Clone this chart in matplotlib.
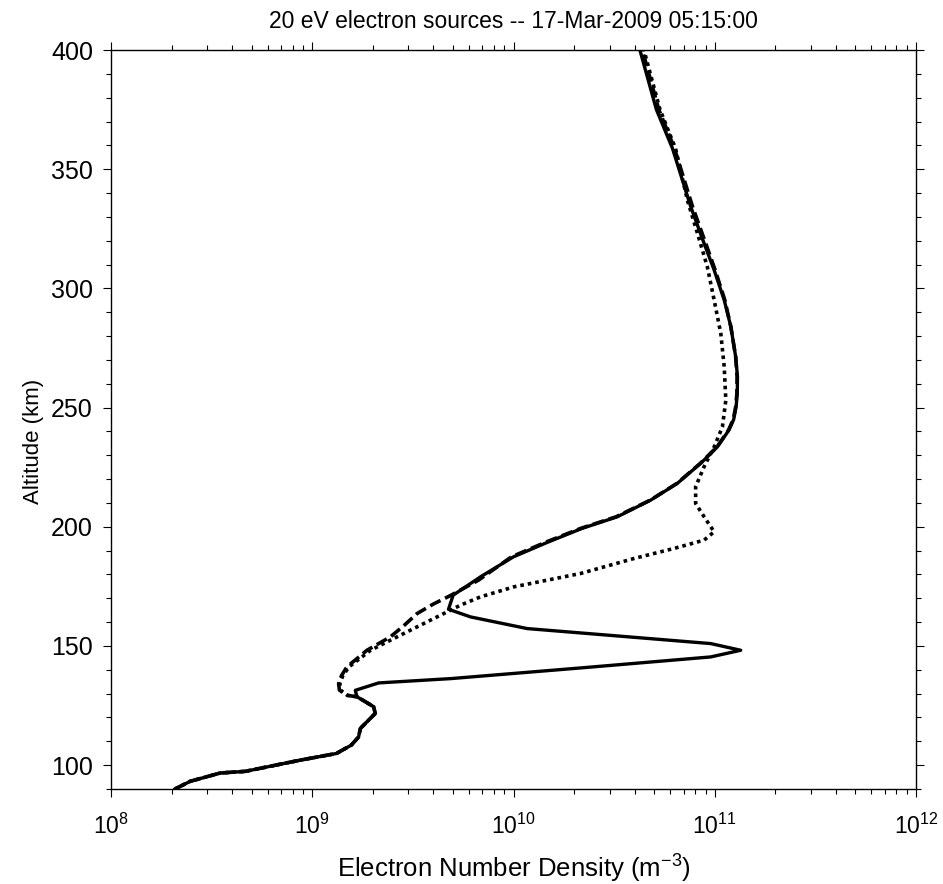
import matplotlib
matplotlib.use("Agg")
import matplotlib.pyplot as plt
import matplotlib.ticker as mticker
import numpy as np

plt.rcParams["font.family"] = ["Liberation Sans", "DejaVu Sans"]
plt.rcParams["mathtext.fontset"] = "custom"
plt.rcParams["mathtext.rm"] = "Liberation Sans"
plt.rcParams["mathtext.it"] = "Liberation Sans:italic"

# Solid profile (km, log10 m^-3)
solid_alt = [90.0, 93.2, 96.7, 97.4, 102.1, 104.9, 108.4, 111.8, 115.4, 118.2,
             121.7, 124.5, 126.6, 128.7, 131.4, 134.5, 136.3, 140.9, 145.4, 148.2,
             151.0, 157.3, 162.2, 165.4, 171.3, 179.0, 187.4, 193.7, 199.3, 204.2,
             211.2, 218.2, 226.6, 233.5, 240.5, 245.0, 250.3, 256.0, 262.9, 271.3,
             283.9, 295.1, 307.7, 318.9, 334.2, 358.7, 375.0, 400.0]
solid_log = [8.318, 8.393, 8.542, 8.667, 8.940, 9.120, 9.194, 9.230, 9.239, 9.272,
             9.313, 9.305, 9.264, 9.222, 9.214, 9.330, 9.687, 10.350, 10.980, 11.129,
             10.980, 10.068, 9.786, 9.677, 9.700, 9.836, 10.000, 10.175, 10.340, 10.516,
             10.682, 10.814, 10.930, 11.013, 11.070, 11.094, 11.106, 11.112, 11.113, 11.104,
             11.080, 11.047, 10.997, 10.947, 10.881, 10.790, 10.710, 10.628]

# Dashed profile
dashed_alt = [90.0, 93.2, 96.7, 97.4, 102.1, 104.9, 108.4, 111.8, 115.4, 118.2,
              121.7, 124.5, 126.6, 128.7, 129.3, 131.5, 134.2, 137.5, 141.2, 148.2,
              153.8, 158.5, 163.6, 167.5, 171.3, 177.6, 187.4, 193.7, 199.3, 204.2,
              211.2, 218.2, 226.6, 233.5, 240.5, 245.0, 250.3, 256.0, 262.9, 271.3,
              283.9, 295.1, 307.7, 318.9, 334.2, 358.7, 375.0, 400.0]
dashed_log = [8.318, 8.393, 8.542, 8.667, 8.940, 9.120, 9.194, 9.230, 9.239, 9.272,
              9.313, 9.305, 9.264, 9.222, 9.172, 9.135, 9.131, 9.145, 9.172, 9.272,
              9.388, 9.455, 9.521, 9.600, 9.690, 9.826, 9.990, 10.165, 10.333, 10.510,
              10.680, 10.812, 10.928, 11.011, 11.068, 11.092, 11.104, 11.110, 11.111, 11.104,
              11.080, 11.050, 11.002, 10.955, 10.890, 10.800, 10.722, 10.640]

# Dotted profile
dotted_alt = [90.0, 93.2, 96.7, 97.4, 102.1, 104.9, 108.4, 111.8, 115.4, 118.2,
              121.7, 124.5, 126.6, 128.7, 129.3, 131.5, 134.2, 137.5, 141.2, 148.2,
              152.4, 157.3, 160.8, 165.0, 167.1, 170.6, 174.8, 177.6, 180.4, 186.7,
              190.9, 194.4, 197.9, 204.2, 209.8, 216.8, 225.2, 233.5, 241.9, 253.1,
              267.1, 281.1, 295.1, 309.1, 323.1, 337.0, 358.7, 375.0, 400.0]
dotted_log = [8.318, 8.393, 8.542, 8.667, 8.940, 9.120, 9.194, 9.230, 9.239, 9.272,
              9.313, 9.305, 9.264, 9.222, 9.175, 9.140, 9.137, 9.152, 9.182, 9.290,
              9.388, 9.504, 9.587, 9.687, 9.736, 9.836, 10.002, 10.167, 10.333, 10.599,
              10.797, 10.947, 10.997, 10.947, 10.905, 10.905, 10.947, 10.997, 11.038, 11.055,
              11.047, 11.030, 10.997, 10.963, 10.914, 10.864, 10.805, 10.728, 10.648]

fig = plt.figure(figsize=(9.43, 8.84), dpi=100)
ax = fig.add_axes([111 / 943, 1 - 789 / 884, 805 / 943, 739 / 884])

ax.plot(10 ** np.array(dotted_log), dotted_alt, color="black", lw=2.6,
        linestyle=(0, (1, 1.1)), dash_capstyle="butt")
ax.plot(10 ** np.array(dashed_log), dashed_alt, color="black", lw=2.6,
        linestyle=(0, (3.2, 1.4)), dash_capstyle="butt")
ax.plot(10 ** np.array(solid_log), solid_alt, color="black", lw=2.4)

ax.set_xscale("log")
ax.set_xlim(1e8, 1e12)
ax.set_ylim(90, 400)
ax.set_yticks(np.arange(100, 401, 50))
ax.yaxis.set_minor_locator(mticker.MultipleLocator(10))
ax.xaxis.set_major_locator(mticker.LogLocator(base=10, numticks=10))
ax.xaxis.set_minor_locator(mticker.LogLocator(base=10, subs=np.arange(2, 10), numticks=20))
ax.xaxis.set_minor_formatter(mticker.NullFormatter())

for s in ax.spines.values():
    s.set_linewidth(1.0)
ax.tick_params(which="both", direction="out", top=True, right=True, width=0.8)
ax.tick_params(which="major", length=6)
ax.tick_params(which="minor", length=3.5)
ax.tick_params(axis="x", which="major", labelsize=16.5, pad=12)
ax.tick_params(axis="y", which="major", labelsize=18, pad=7)

ax.set_xlabel("Electron Number Density (m$^{\\mathdefault{-3}}$)", fontsize=18.5, labelpad=10)
ax.set_ylabel("Altitude (km)", fontsize=16)
ax.yaxis.set_label_coords(-0.083, 0.47)
ax.set_title("20 eV electron sources -- 17-Mar-2009 05:15:00", fontsize=16.5, pad=16)

fig.savefig("out.png", dpi=100)
